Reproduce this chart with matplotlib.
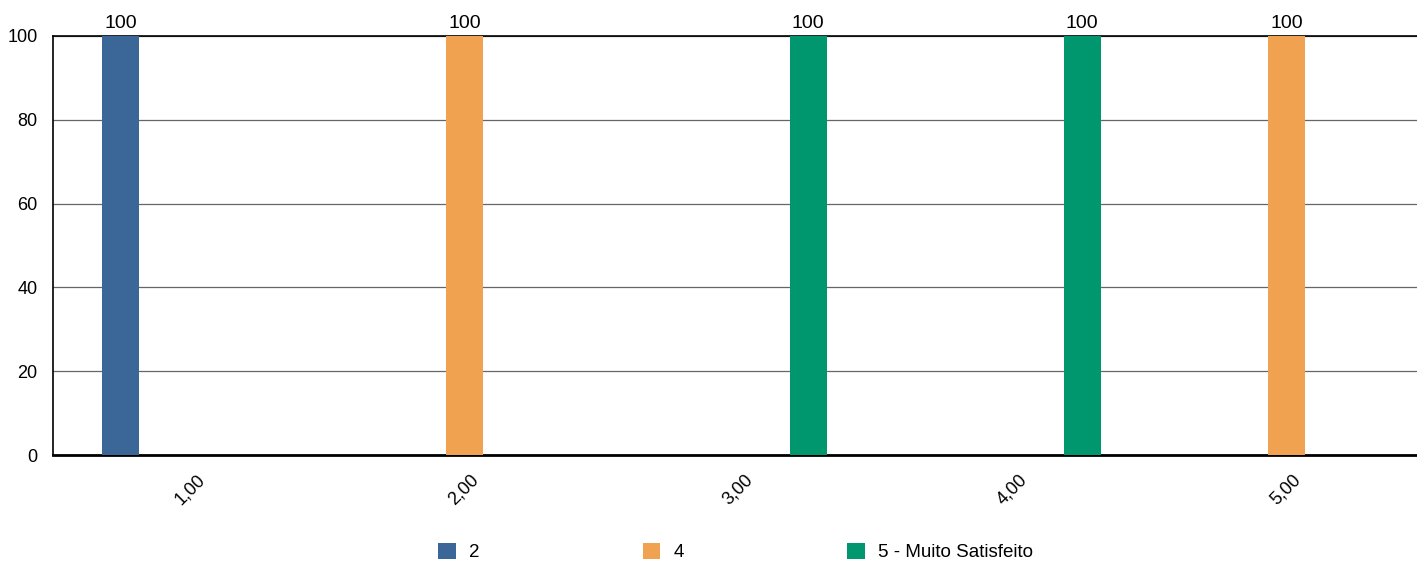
import matplotlib
matplotlib.use('Agg')
import matplotlib.pyplot as plt
import numpy as np

plt.rcParams['font.family'] = ['Liberation Sans', 'DejaVu Sans']

# data
categories = ['1,00', '2,00', '3,00', '4,00', '5,00']
series_names = ['2', '4', '5 - Muito Satisfeito']
values_2 = [100, 0, 0, 0, 0]
values_4 = [0, 100, 0, 0, 100]
values_5 = [0, 0, 100, 100, 0]
colors = ['#3b6698', '#f0a250', '#00966e']

fig = plt.figure(figsize=(14.17, 5.62), dpi=100)
# plot area runs slightly past the right edge of the image
ax = fig.add_axes([53 / 1417, 1 - 455 / 562, 1370 / 1417, (455 - 36) / 562])

x = np.arange(len(categories))
offsets = [-0.252, 0.002, 0.256]
width = 0.135

for vals, off, col, name in zip([values_2, values_4, values_5], offsets, colors, series_names):
    bars = ax.bar(x + off, vals, width, color=col, label=name, zorder=3)
    labels = [str(v) if v > 0 else '' for v in vals]
    ax.bar_label(bars, labels=labels, padding=3, fontsize=14, clip_on=False)

ax.set_xlim(-0.5, len(categories) - 0.5)
ax.set_ylim(0, 100)
ax.set_yticks([0, 20, 40, 60, 80, 100])
ax.set_xticks(x)
ax.set_xticklabels(categories, rotation=45, ha='center')
ax.tick_params(axis='y', length=0, pad=11, labelsize=13)
ax.tick_params(axis='x', length=0, pad=12, labelsize=13)

ax.yaxis.grid(True, color='#666666', linewidth=0.9, zorder=0)
ax.spines['right'].set_visible(False)
ax.spines['top'].set_linewidth(1.2)
ax.spines['left'].set_linewidth(1.2)
ax.spines['bottom'].set_linewidth(2)

fig.legend(loc='center', bbox_to_anchor=(735.5 / 1417, 1 - 552 / 562), ncol=3, frameon=False,
           fontsize=13.5, handlelength=0.95, handleheight=1.0, handletextpad=0.7,
           columnspacing=8.7, borderpad=0.0)

plt.savefig('out.png', dpi=100)
